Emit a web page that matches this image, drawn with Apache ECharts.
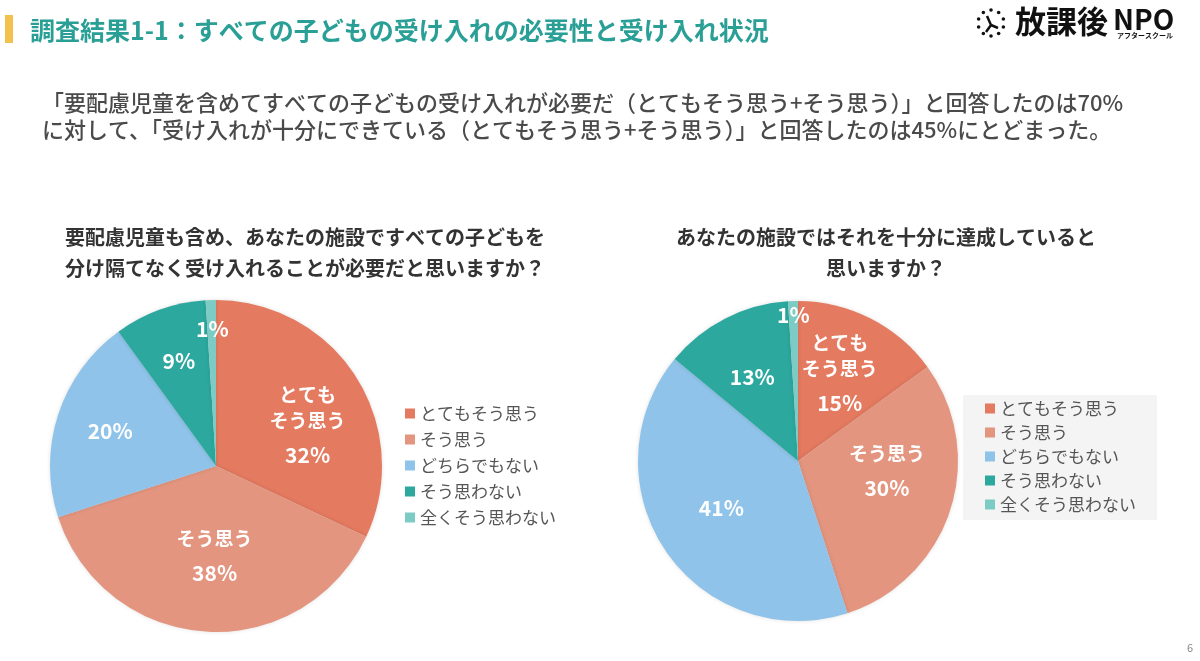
<!DOCTYPE html>
<html>
<head>
<meta charset="utf-8">
<script src="https://cdn.jsdelivr.net/npm/echarts@6/dist/echarts.min.js"></script>
<style>
  html, body { margin: 0; padding: 0; background: #fff; }
  #main { width: 1200px; height: 661px; }
</style>
</head>
<body>
<div id="main"></div>
<script>
// 回答の区分
const categories = ['とてもそう思う', 'そう思う', 'どちらでもない', 'そう思わない', '全くそう思わない']
// 必要だと思うか (%)
const needValues = [32, 38, 20, 9, 1]
// 十分に達成しているか (%)
const doneValues = [15, 30, 41, 13, 1]
// スライス内に名前も出す区分
const namedLabels = { 'とてもそう思う': 'とても\nそう思う', 'そう思う': 'そう思う' }

const colors = ['#e47a5f', '#e3957f', '#8fc3e9', '#2ca89e', '#7ccbc4']
const FONT = '"Noto Sans CJK JP", "Noto Sans", sans-serif'

// ラベルの微調整（見た目だけ）
const needOffsets = [[19, 9], [4, 8], [-24, -8], [-8, -24], [-1, -51]]
const doneOffsets = [[4, -10], [10, -12], [-8, 0], [-8, -10], [-2, -63]]

function labelText(name, value) {
    const n = namedLabels[name]
    if (!n) return '{p|' + value + '%}'
    return n.split('\n').map(s => '{n|' + s + '}').join('\n') + '\n{p|' + value + '%}'
}

function buildData(values, offsets) {
    return categories.map((name, i) => ({
        name: name,
        value: values[i],
        itemStyle: { color: colors[i] },
        label: { offset: offsets[i] }
    }))
}

function pieSeries(values, offsets, center, radius) {
    return {
        type: 'pie',
        center: center,
        radius: [0, radius],
        startAngle: 90,
        clockwise: true,
        silent: true,
        avoidLabelOverlap: false,
        label: {
            show: true,
            position: 'inside',
            formatter: p => labelText(p.name, p.value),
            rich: {
                n: { color: '#fff', fontSize: 19, fontWeight: 'bold', fontFamily: FONT, lineHeight: 26 },
                p: { color: '#fff', fontSize: 21, fontWeight: 'bold', fontFamily: FONT, lineHeight: 42 }
            }
        },
        labelLine: { show: false },
        labelLayout: { hideOverlap: false },
        itemStyle: { shadowBlur: 4, shadowColor: 'rgba(0,0,0,0.12)' },
        data: buildData(values, offsets)
    }
}

// ロゴの時計の点
const clockDots = []
for (let i = 0; i < 10; i++) {
    const a = (i / 10) * Math.PI * 2
    clockDots.push({
        type: 'circle',
        shape: { cx: 991 + 13 * Math.sin(a), cy: 23 - 13 * Math.cos(a), r: 1.8 },
        style: { fill: '#111' }
    })
}

const myChart = echarts.init(document.getElementById('main'))

const option = {
    backgroundColor: '#fff',
    animation: false,
    color: colors,
    legend: [
        {
            orient: 'vertical',
            left: 405,
            top: 405,
            icon: 'rect',
            itemWidth: 10,
            itemHeight: 10,
            itemGap: 9,
            padding: 0,
            selectedMode: false,
            data: categories,
            textStyle: { fontSize: 17, color: '#555', fontFamily: FONT }
        },
        {
            orient: 'vertical',
            left: 963,
            top: 395,
            icon: 'rect',
            itemWidth: 10,
            itemHeight: 10,
            itemGap: 7,
            padding: [5, 21, 7, 22],
            backgroundColor: '#f4f4f4',
            selectedMode: false,
            data: categories,
            textStyle: { fontSize: 17, color: '#555', fontFamily: FONT }
        }
    ],
    graphic: [
        // 見出し
        { type: 'rect', shape: { x: 5, y: 15, width: 8, height: 28 }, style: { fill: '#f2c14e' } },
        {
            type: 'text', x: 30, y: 30,
            style: {
                text: '調査結果1-1：すべての子どもの受け入れの必要性と受け入れ状況',
                fontSize: 25, fontWeight: 'bold', fontFamily: FONT, fill: '#2a9f96',
                verticalAlign: 'middle'
            }
        },
        // 説明文
        {
            type: 'text', x: 42, y: 89,
            style: {
                text: '「要配慮児童を含めてすべての子どもの受け入れが必要だ（とてもそう思う+そう思う）」と回答したのは70%\nに対して、「受け入れが十分にできている（とてもそう思う+そう思う）」と回答したのは45%にとどまった。',
                fontSize: 22, fontWeight: 500, fontFamily: FONT, fill: '#4a4a4a',
                lineHeight: 27, verticalAlign: 'top'
            }
        },
        // 設問
        {
            type: 'text', x: 305, y: 222,
            style: {
                text: '要配慮児童も含め、あなたの施設ですべての子どもを\n分け隔てなく受け入れることが必要だと思いますか？',
                fontSize: 20, fontWeight: 'bold', fontFamily: FONT, fill: '#333',
                lineHeight: 31, align: 'center', verticalAlign: 'top'
            }
        },
        {
            type: 'text', x: 886, y: 222,
            style: {
                text: 'あなたの施設ではそれを十分に達成していると\n思いますか？',
                fontSize: 20, fontWeight: 'bold', fontFamily: FONT, fill: '#333',
                lineHeight: 31, align: 'center', verticalAlign: 'top'
            }
        },
        // ロゴ
        ...clockDots,
        {
            type: 'polyline',
            shape: { points: [[987, 16], [991, 25], [986, 32]] },
            style: { stroke: '#111', lineWidth: 2.5, fill: null }
        },
        {
            type: 'polyline',
            shape: { points: [[991, 25], [998, 28]] },
            style: { stroke: '#111', lineWidth: 2.5, fill: null }
        },
        {
            type: 'text', x: 1015, y: 21,
            style: { text: '放課後', fontSize: 31, fontWeight: 'bold', fontFamily: FONT, fill: '#111', verticalAlign: 'middle' }
        },
        {
            type: 'text', x: 1113, y: 19,
            style: { text: 'NPO', fontSize: 28, fontWeight: 'bold', fontFamily: FONT, fill: '#111', verticalAlign: 'middle' }
        },
        {
            type: 'text', x: 1117, y: 35,
            style: { text: 'アフタースクール', fontSize: 7, fontWeight: 'bold', fontFamily: FONT, fill: '#111', verticalAlign: 'middle' }
        },
        // ページ番号
        {
            type: 'text', x: 1190, y: 648,
            style: { text: '6', fontSize: 11, fontFamily: FONT, fill: '#888', align: 'center', verticalAlign: 'middle' }
        }
    ],
    series: [
        pieSeries(needValues, needOffsets, [216, 466], 166),
        pieSeries(doneValues, doneOffsets, [798, 461], 160)
    ]
}

myChart.setOption(option)
</script>
</body>
</html>
